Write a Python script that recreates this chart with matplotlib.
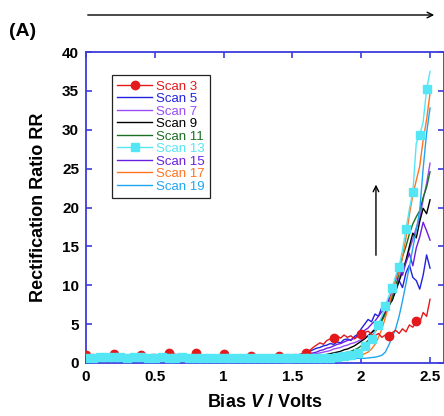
import numpy as np
import matplotlib
matplotlib.use('Agg')
import matplotlib.pyplot as plt
from matplotlib.lines import Line2D
from matplotlib.patches import FancyArrowPatch

plt.rcParams['font.family'] = ['Liberation Sans', 'DejaVu Sans']
plt.rcParams['mathtext.fontset'] = 'custom'
plt.rcParams['mathtext.it'] = 'Liberation Sans:italic:bold'
plt.rcParams['mathtext.rm'] = 'Liberation Sans:bold'

# ==============================================================================
# DATA  (bias in volts, rectification ratio per scan)
# ==============================================================================
bias_v = [0.0, 0.05, 0.1, 0.15, 0.2, 0.25, 0.3, 0.35, 0.4, 0.45,
          0.5, 0.55, 0.6, 0.65, 0.7, 0.75, 0.8, 0.85, 0.9, 0.95,
          1.0, 1.05, 1.1, 1.15, 1.2, 1.25, 1.3, 1.35, 1.4, 1.45,
          1.475, 1.5, 1.525, 1.55, 1.575, 1.6, 1.625, 1.65, 1.675, 1.7,
          1.725, 1.75, 1.775, 1.8, 1.825, 1.85, 1.875, 1.9, 1.925, 1.95,
          1.975, 2.0, 2.025, 2.05, 2.075, 2.1, 2.125, 2.15, 2.175, 2.2,
          2.225, 2.25, 2.275, 2.3, 2.325, 2.35, 2.375, 2.4, 2.425, 2.45,
          2.475, 2.5]

scan_3 = [1.0, 1.1, 1.0, 1.05, 1.1, 1.0, 1.05, 1.1, 1.0, 1.05,
          1.1, 1.0, 1.3, 1.1, 1.05, 1.0, 1.25, 1.0, 1.05, 1.0,
          1.2, 1.0, 0.95, 1.0, 0.9, 0.95, 0.9, 0.85, 0.9, 0.95,
          1.0, 1.05, 1.1, 1.0, 1.2, 1.35, 1.6, 2.0, 2.3, 2.6,
          2.4, 2.9, 3.1, 3.2, 3.5, 3.2, 3.6, 3.3, 3.5, 3.1,
          3.4, 3.7, 3.9, 4.1, 3.7, 3.5, 3.8, 3.3, 3.6, 3.5,
          3.9, 4.2, 3.8, 4.4, 4.0, 4.9, 4.6, 5.4, 5.2, 6.5,
          6.0, 8.2]
scan_5 = [0.9, 0.95, 0.9, 0.95, 0.9, 0.95, 0.9, 0.95, 0.9, 0.9,
          0.95, 0.9, 0.9, 0.95, 0.9, 0.9, 0.85, 0.9, 0.9, 0.85,
          0.9, 0.85, 0.85, 0.8, 0.85, 0.8, 0.8, 0.8, 0.85, 0.85,
          0.85, 0.9, 1.0, 1.1, 1.2, 1.3, 1.5, 1.7, 1.9, 2.0,
          2.2, 2.3, 2.5, 2.4, 2.7, 2.6, 3.0, 3.1, 2.9, 3.4,
          3.7, 4.4, 5.0, 5.6, 5.3, 6.3, 6.0, 7.2, 6.8, 8.3,
          8.0, 9.6, 10.6, 9.7, 11.6, 12.6, 11.0, 10.6, 9.5, 11.3,
          13.9, 12.2]
scan_7 = [0.9, 0.9, 0.95, 0.9, 0.9, 0.95, 0.9, 0.9, 0.95, 0.9,
          0.9, 0.9, 0.95, 0.9, 0.9, 0.85, 0.9, 0.9, 0.85, 0.9,
          0.85, 0.85, 0.9, 0.85, 0.8, 0.85, 0.8, 0.85, 0.8, 0.85,
          0.85, 0.9, 0.9, 0.95, 1.0, 1.0, 1.1, 1.15, 1.2, 1.3,
          1.4, 1.5, 1.6, 1.8, 1.9, 2.0, 2.2, 2.3, 2.5, 2.6,
          2.8, 3.0, 3.3, 3.5, 3.9, 4.4, 5.1, 5.8, 6.6, 7.8,
          8.6, 10.0, 10.9, 12.2, 13.0, 14.6, 15.9, 17.4, 18.6, 21.0,
          23.1, 25.7]
scan_9 = [0.85, 0.9, 0.85, 0.9, 0.85, 0.9, 0.85, 0.85, 0.9, 0.85,
          0.85, 0.9, 0.85, 0.85, 0.8, 0.85, 0.85, 0.8, 0.85, 0.8,
          0.8, 0.85, 0.8, 0.8, 0.8, 0.75, 0.8, 0.8, 0.75, 0.8,
          0.8, 0.8, 0.85, 0.8, 0.85, 0.85, 0.9, 0.9, 0.95, 1.0,
          1.0, 1.1, 1.2, 1.3, 1.4, 1.5, 1.7, 1.8, 2.0, 2.2,
          2.5, 2.8, 3.1, 3.5, 3.9, 4.3, 4.9, 5.6, 6.4, 7.3,
          8.1, 9.2, 10.5, 11.8, 13.2, 15.0, 16.7, 16.1, 18.2, 19.9,
          19.2, 21.0]
scan_11 = [0.85, 0.85, 0.9, 0.85, 0.85, 0.9, 0.85, 0.85, 0.85, 0.9,
           0.85, 0.85, 0.8, 0.85, 0.85, 0.8, 0.85, 0.8, 0.8, 0.85,
           0.8, 0.8, 0.75, 0.8, 0.8, 0.75, 0.8, 0.75, 0.8, 0.75,
           0.8, 0.8, 0.8, 0.85, 0.8, 0.85, 0.85, 0.9, 0.9, 0.9,
           0.95, 1.0, 1.0, 1.05, 1.1, 1.2, 1.3, 1.4, 1.5, 1.7,
           1.9, 2.2, 2.5, 2.9, 3.4, 4.0, 4.6, 5.4, 6.3, 7.3,
           8.4, 9.8, 11.6, 13.7, 15.0, 16.6, 17.9, 18.8, 19.6, 21.3,
           22.6, 24.6]
scan_13 = [0.7, 0.7, 0.75, 0.8, 0.75, 0.75, 0.7, 0.75, 0.75, 0.7,
           0.7, 0.75, 0.7, 0.7, 0.75, 0.7, 0.7, 0.7, 0.7, 0.7,
           0.7, 0.7, 0.65, 0.65, 0.7, 0.65, 0.65, 0.6, 0.65, 0.6,
           0.65, 0.6, 0.65, 0.6, 0.65, 0.6, 0.65, 0.6, 0.65, 0.6,
           0.65, 0.65, 0.7, 0.7, 0.75, 0.8, 0.85, 0.9, 1.0, 1.1,
           1.3, 1.6, 2.2, 2.6, 3.1, 4.0, 4.9, 6.0, 7.3, 8.6,
           9.7, 11.2, 12.4, 14.6, 17.2, 19.8, 22.0, 28.3, 29.3, 31.0,
           35.2, 37.5]
scan_15 = [0.9, 0.85, 0.9, 0.9, 0.85, 0.9, 0.9, 0.85, 0.9, 0.85,
           0.9, 0.85, 0.85, 0.9, 0.85, 0.85, 0.8, 0.85, 0.85, 0.8,
           0.85, 0.8, 0.8, 0.85, 0.8, 0.8, 0.75, 0.8, 0.8, 0.8,
           0.85, 0.9, 0.9, 0.95, 1.0, 1.1, 1.2, 1.3, 1.4, 1.6,
           1.7, 1.9, 2.0, 2.2, 2.4, 2.5, 2.7, 2.9, 3.0, 3.2,
           3.5, 3.8, 4.2, 4.5, 5.0, 5.4, 6.0, 6.6, 7.2, 8.0,
           9.3, 10.7, 12.2, 11.3, 12.9, 14.1, 12.5, 14.8, 16.2, 18.1,
           17.0, 15.8]
scan_17 = [0.75, 0.8, 0.75, 0.8, 0.75, 0.75, 0.8, 0.75, 0.75, 0.8,
           0.75, 0.75, 0.75, 0.7, 0.75, 0.75, 0.7, 0.75, 0.7, 0.7,
           0.75, 0.7, 0.7, 0.7, 0.7, 0.7, 0.65, 0.7, 0.7, 0.7,
           0.7, 0.7, 0.7, 0.7, 0.7, 0.7, 0.7, 0.7, 0.7, 0.7,
           0.7, 0.7, 0.7, 0.75, 0.75, 0.75, 0.8, 0.8, 0.8, 0.85,
           0.9, 1.0, 1.2, 1.4, 1.8, 2.4, 3.3, 4.4, 5.8, 7.4,
           9.2, 10.9, 11.6, 13.7, 16.1, 19.1, 21.6, 23.5, 25.3, 28.7,
           31.3, 34.7]
scan_19 = [0.7, 0.7, 0.7, 0.75, 0.7, 0.7, 0.7, 0.7, 0.7, 0.7,
           0.7, 0.7, 0.7, 0.65, 0.7, 0.7, 0.65, 0.7, 0.65, 0.65,
           0.65, 0.65, 0.65, 0.65, 0.65, 0.6, 0.65, 0.6, 0.65, 0.6,
           0.65, 0.65, 0.65, 0.6, 0.6, 0.6, 0.6, 0.6, 0.6, 0.6,
           0.6, 0.6, 0.6, 0.6, 0.6, 0.6, 0.6, 0.6, 0.6, 0.6,
           0.6, 0.6, 0.6, 0.65, 0.7, 0.75, 0.85, 1.0, 1.4, 2.3,
           3.3, 4.4, 6.0, 8.0, 10.2, 12.4, 14.8, 17.1, 19.6, 25.0,
           29.6, 32.8]

scan_labels = ['Scan 3', 'Scan 5', 'Scan 7', 'Scan 9', 'Scan 11',
               'Scan 13', 'Scan 15', 'Scan 17', 'Scan 19']
x_ticks = [0, 0.5, 1, 1.5, 2, 2.5]
x_tick_labels = ['0', '0.5', '1', '1.5', '2', '2.5']
y_ticks = [0, 5, 10, 15, 20, 25, 30, 35, 40]

# ==============================================================================
# STYLE
# ==============================================================================
colors = ['#e3191c', '#2121e0', '#9a4cf5', '#000000', '#1b6e22',
          '#55e6f5', '#6a1fe0', '#ff7420', '#1fa6ef']
marker_of = {'Scan 3': ('o', 6.0), 'Scan 13': ('s', 5.5)}
spine_col = '#3c3cdc'

bias = np.array(bias_v)
red_marks = [i for i, v in enumerate(bias) if abs(v / 0.2 - round(v / 0.2)) < 1e-6]
cyan_marks = list(range(30)) + list(range(30, len(bias), 2))
mark_idx = {'Scan 3': red_marks, 'Scan 13': cyan_marks}
# cyan squares sit on top of everything (red circles peek out above the band)
mark_z = {'Scan 3': 4, 'Scan 13': 5}

fig = plt.figure(figsize=(4.44, 4.16), dpi=100)
ax = fig.add_axes([86 / 444, 53 / 416, 357.8 / 444, 311 / 416])

series = [scan_3, scan_5, scan_7, scan_9, scan_11, scan_13, scan_15, scan_17, scan_19]
handles = []
for vals, lab, col in zip(series, scan_labels, colors):
    vals = np.array(vals)
    z = mark_z.get(lab, 2)
    ax.plot(bias, vals, color=col, lw=1.0, zorder=z)
    if lab in marker_of:
        m, ms = marker_of[lab]
        idx = mark_idx[lab]
        ax.plot(bias[idx], vals[idx], linestyle='none', marker=m, ms=ms,
                color=col, mec=col, zorder=z)
        handles.append(Line2D([], [], color=col, lw=1.0, marker=m, ms=ms, label=lab))
    else:
        handles.append(Line2D([], [], color=col, lw=1.0, label=lab))

ax.set_xlim(0, 2.6)
ax.set_ylim(0, 40)
ax.set_xticks(x_ticks)
ax.set_xticklabels(x_tick_labels)
ax.set_yticks(y_ticks)
for s in ax.spines.values():
    s.set_color(spine_col)
    s.set_linewidth(1.3)
ax.tick_params(direction='in', length=4, width=1.2, color=spine_col,
               top=True, right=True, labelsize=11, pad=5)
for t in ax.get_xticklabels() + ax.get_yticklabels():
    t.set_fontweight('bold')

ax.set_xlabel(r'Bias $\mathit{V}$ / Volts', fontsize=13, fontweight='bold', labelpad=7)
ax.set_ylabel('Rectification Ratio RR', fontsize=13, fontweight='bold', labelpad=11)

leg = ax.legend(handles=handles, loc='upper left', bbox_to_anchor=(0.073, 0.926),
                borderaxespad=0, fontsize=9.5, handlelength=2.6, handletextpad=0.3,
                labelspacing=0.02, borderpad=0.4, fancybox=False, framealpha=1,
                edgecolor='#222222')
leg.get_frame().set_linewidth(0.9)
leg.set_zorder(10)
for txt, col in zip(leg.get_texts(), colors):
    txt.set_color(col)

# arrows and panel label
ax.annotate('', xy=(2.107, 23.3), xytext=(2.107, 13.5),
            arrowprops=dict(arrowstyle='->', color='black', lw=1.0))
fig.patches.append(FancyArrowPatch(
    (85 / 444, 1 - 15 / 416), (437 / 444, 1 - 15 / 416), transform=fig.transFigure,
    arrowstyle='->', mutation_scale=10, color='black', lw=1.0))
fig.text(9 / 444, 1 - 31 / 416, '(A)', fontsize=14, fontweight='bold', va='center')

plt.savefig('out.png', dpi=100)
plt.close()
